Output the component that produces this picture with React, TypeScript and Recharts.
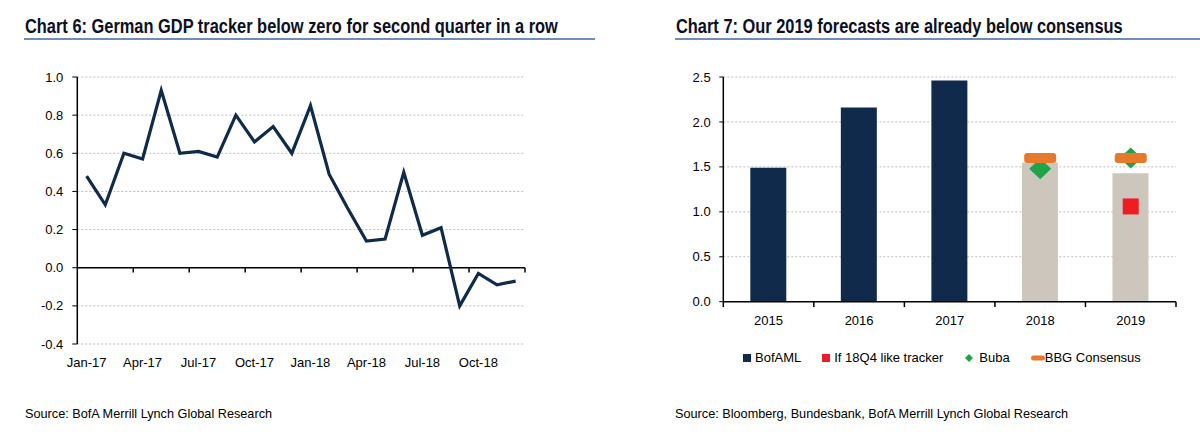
import {
  LineChart,
  Line,
  ComposedChart,
  Bar,
  Cell,
  Scatter,
  XAxis,
  YAxis,
  CartesianGrid,
  ReferenceLine,
} from "recharts";

// Chart 6: German GDP tracker (monthly)
const months = [
  "Jan-17", "Feb-17", "Mar-17", "Apr-17", "May-17", "Jun-17",
  "Jul-17", "Aug-17", "Sep-17", "Oct-17", "Nov-17", "Dec-17",
  "Jan-18", "Feb-18", "Mar-18", "Apr-18", "May-18", "Jun-18",
  "Jul-18", "Aug-18", "Sep-18", "Oct-18", "Nov-18", "Dec-18",
];
const gdpTracker = [
  0.48, 0.33, 0.6, 0.57, 0.93, 0.6, 0.61, 0.58, 0.8, 0.66, 0.74, 0.6,
  0.85, 0.49, 0.31, 0.14, 0.15, 0.5, 0.17, 0.21, -0.2, -0.03, -0.09, -0.07,
];
const monthTickLabels = ["Jan-17", "Apr-17", "Jul-17", "Oct-17", "Jan-18", "Apr-18", "Jul-18", "Oct-18"];
const trackerTicks = [-0.4, -0.2, 0, 0.2, 0.4, 0.6, 0.8, 1.0];

// Chart 7: forecasts vs consensus
const years = ["2015", "2016", "2017", "2018", "2019"];
const bofaml = [1.49, 2.16, 2.46, 1.55, 1.43];
const isForecast = [false, false, false, true, true];
const trackerCase = [null, null, null, null, 1.06];
const buba = [null, null, null, 1.48, 1.6];
const bbgConsensus = [null, null, null, 1.6, 1.6];
const forecastTicks = [0, 0.5, 1.0, 1.5, 2.0, 2.5];

const NAVY = "#102a4c";
const GREY = "#cdc6bd";
const RED = "#ee1d24";
const GREEN = "#22a24a";
const ORANGE = "#e8792b";
const RULE = "#6f8db5";
const FONT = "'Liberation Sans', Arial, sans-serif";

const trackerData = months.map((m, i) => ({ x: i + 0.5, month: m, value: gdpTracker[i] }));
const monthLabelPos = months
  .map((m, i) => (monthTickLabels.includes(m) ? i + 0.5 : null))
  .filter((v) => v !== null) as number[];
const quarterEdges = months.map((_, i) => i + 1).filter((n) => n % 3 === 0);

const yearData = years.map((y, i) => ({ x: i + 0.5, year: y, bofaml: bofaml[i] }));
const pointsOf = (vals: (number | null)[]) =>
  years
    .map((y, i) => ({ x: i + 0.5, year: y, value: vals[i] }))
    .filter((d) => d.value !== null);
const yearEdges = [0, ...years.map((_, i) => i + 1)];

const legendItems = [
  { name: "BofAML", kind: "square", color: NAVY },
  { name: "If 18Q4 like tracker", kind: "square", color: RED },
  { name: "Buba", kind: "diamond", color: GREEN },
  { name: "BBG Consensus", kind: "dash", color: ORANGE },
];

const tickStyle = { fill: "#000", fontSize: 13, fontFamily: FONT };

const Square = (color: string, size: number) => (p: any) => (
  <rect x={p.cx - size / 2} y={p.cy - size / 2} width={size} height={size} fill={color} />
);
const Diamond = (p: any) => (
  <polygon
    points={`${p.cx},${p.cy - 10.5} ${p.cx + 11},${p.cy} ${p.cx},${p.cy + 10.5} ${p.cx - 11},${p.cy}`}
    fill={GREEN}
  />
);
const Dash = (p: any) => (
  <rect x={p.cx - 16} y={p.cy - 5} width={32} height={10} rx={3} fill={ORANGE} />
);

const LegendMarker = ({ kind, color }: { kind: string; color: string }) => {
  if (kind === "diamond")
    return (
      <svg width={11} height={10} style={{ marginRight: 4 }}>
        <polygon points="5,1 9,5 5,9 1,5" fill={color} />
      </svg>
    );
  if (kind === "dash")
    return (
      <svg width={14} height={10}>
        <rect x={0} y={2.5} width={14} height={5} rx={2.5} fill={color} />
      </svg>
    );
  return (
    <svg width={12} height={10}>
      <rect x={0} y={1} width={8} height={8} fill={color} />
    </svg>
  );
};

// titles are Arial Narrow in the original: squeeze Liberation Sans Bold
const Title = ({ left, text, ruleWidth }: { left: number; text: string; ruleWidth: number }) => (
  <>
    <div
      style={{
        position: "absolute",
        left,
        top: 16,
        fontFamily: FONT,
        fontWeight: "bold",
        fontSize: 20,
        lineHeight: "20px",
        color: "#0b1024",
        whiteSpace: "nowrap",
        transform: "scaleX(0.82)",
        transformOrigin: "left top",
      }}
    >
      {text}
    </div>
    <div style={{ position: "absolute", left: left - 1, top: 38, width: ruleWidth, height: 2, background: RULE }} />
  </>
);

const Source = ({ left, text }: { left: number; text: string }) => (
  <div
    style={{
      position: "absolute",
      left,
      top: 406,
      fontFamily: FONT,
      fontSize: 12.7,
      lineHeight: "16px",
      color: "#000",
      whiteSpace: "nowrap",
    }}
  >
    {text}
  </div>
);

export default function App() {
  return (
    <div
      style={{
        position: "absolute",
        left: 0,
        top: 0,
        width: 1200,
        height: 440,
        background: "#fff",
        overflow: "hidden",
      }}
    >
      <Title left={25} text="Chart 6: German GDP tracker below zero for second quarter in a row" ruleWidth={571} />
      <Title left={676} text="Chart 7: Our 2019 forecasts are already below consensus" ruleWidth={525} />

      <div style={{ position: "absolute", left: 0, top: 50 }}>
        <LineChart width={600} height={330} data={trackerData} margin={{ top: 27, right: 75, bottom: 6, left: 0 }}>
          <CartesianGrid vertical={false} stroke="#bdbdbd" strokeDasharray="2 2" />
          <XAxis
            dataKey="x"
            type="number"
            domain={[0, months.length]}
            ticks={monthLabelPos}
            tickFormatter={(v: number) => months[Math.floor(v)]}
            axisLine={false}
            tickLine={false}
            tickSize={0}
            tickMargin={14}
            height={30}
            tick={tickStyle}
            interval={0}
          />
          <YAxis
            type="number"
            domain={[-0.4, 1.0]}
            ticks={trackerTicks}
            tickFormatter={(v: number) => v.toFixed(1)}
            width={77.3}
            axisLine={{ stroke: "#000", strokeWidth: 1.5 }}
            tickLine={{ stroke: "#000" }}
            tickSize={5}
            tickMargin={9}
            tick={tickStyle}
            interval={0}
          />
          <ReferenceLine y={0} stroke="#000" strokeWidth={1.5} />
          {quarterEdges.map((q) => (
            <ReferenceLine
              key={q}
              segment={[
                { x: q, y: 0 },
                { x: q, y: -0.025 },
              ]}
              stroke="#000"
              strokeWidth={1.5}
            />
          ))}
          <Line
            type="linear"
            dataKey="value"
            stroke={NAVY}
            strokeWidth={3.2}
            dot={false}
            isAnimationActive={false}
          />
        </LineChart>
      </div>

      <div style={{ position: "absolute", left: 600, top: 50 }}>
        <ComposedChart width={600} height={290} data={yearData} margin={{ top: 27, right: 24, bottom: 8.3, left: 0 }}>
          <CartesianGrid vertical={false} stroke="#bdbdbd" strokeDasharray="2 2" />
          <XAxis
            dataKey="x"
            type="number"
            domain={[0, years.length]}
            ticks={yearData.map((d) => d.x)}
            tickFormatter={(v: number) => years[Math.floor(v)]}
            axisLine={{ stroke: "#000", strokeWidth: 1.5 }}
            tickLine={false}
            tickSize={0}
            tickMargin={14}
            height={30}
            tick={tickStyle}
            interval={0}
          />
          <YAxis
            type="number"
            domain={[0, 2.5]}
            ticks={forecastTicks}
            tickFormatter={(v: number) => v.toFixed(1)}
            width={123.3}
            axisLine={{ stroke: "#000", strokeWidth: 1.5 }}
            tickLine={{ stroke: "#000" }}
            tickSize={4}
            tickMargin={8.6}
            tick={tickStyle}
            interval={0}
          />
          {yearEdges.map((e) => (
            <ReferenceLine
              key={e}
              segment={[
                { x: e, y: 0 },
                { x: e, y: -0.06 },
              ]}
              stroke="#000"
              strokeWidth={1.5}
              ifOverflow="visible"
            />
          ))}
          <Bar dataKey="bofaml" barSize={36} isAnimationActive={false}>
            {yearData.map((d, i) => (
              <Cell key={d.year} fill={isForecast[i] ? GREY : NAVY} />
            ))}
          </Bar>
          <Scatter data={pointsOf(trackerCase)} dataKey="value" shape={Square(RED, 16)} isAnimationActive={false} />
          <Scatter data={pointsOf(buba)} dataKey="value" shape={Diamond} isAnimationActive={false} />
          <Scatter data={pointsOf(bbgConsensus)} dataKey="value" shape={Dash} isAnimationActive={false} />
        </ComposedChart>
      </div>

      <div
        style={{
          position: "absolute",
          left: 743,
          top: 350,
          display: "flex",
          alignItems: "center",
          fontFamily: FONT,
          fontSize: 13,
          lineHeight: "16px",
          whiteSpace: "nowrap",
        }}
      >
        {legendItems.map((it) => (
          <div key={it.name} style={{ display: "flex", alignItems: "center", marginRight: 21 }}>
            <LegendMarker kind={it.kind} color={it.color} />
            <span>{it.name}</span>
          </div>
        ))}
      </div>

      <Source left={25} text="Source: BofA Merrill Lynch Global Research" />
      <Source left={675} text="Source: Bloomberg, Bundesbank, BofA Merrill Lynch Global Research" />
    </div>
  );
}
